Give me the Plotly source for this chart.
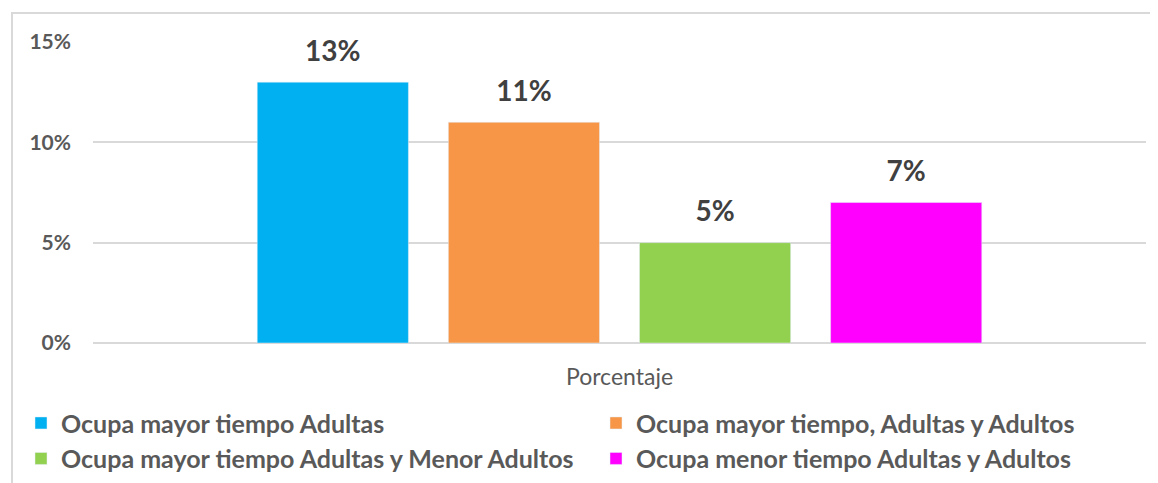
import plotly.graph_objects as go

categories = ["Porcentaje"]
series_names = [
    "Ocupa mayor tiempo Adultas",
    "Ocupa mayor tiempo, Adultas y Adultos",
    "Ocupa mayor tiempo Adultas y Menor Adultos",
    "Ocupa menor tiempo Adultas y Adultos",
]
series_values = [0.13, 0.11, 0.05, 0.07]
series_colors = ["#00B0F0", "#F79646", "#92D050", "#FF00FF"]
series_legend = ["legend", "legend2", "legend", "legend2"]
tick_vals = [0, 0.05, 0.10, 0.15]
tick_text = ["0%", "5%", "10%", "15%"]

FONT = "Lato"
L, R, T, B = 85, 20, 34, 148
PW = 1158 - L - R
PH = 483 - T - B

fig = go.Figure()
for name, val, col, lg in zip(series_names, series_values, series_colors, series_legend):
    fig.add_trace(go.Bar(
        x=categories, y=[val], name=name, marker_color=col, legend=lg,
        texttemplate="<span style='font-size:28px'>%{y:.0%}</span><br> ",
        textposition="outside",
        textfont=dict(family=FONT, size=12, color="#404040", weight="bold"),
        cliponaxis=False,
    ))

legend_common = dict(orientation="v", yanchor="top", y=-0.19, xanchor="left",
                     bgcolor="rgba(0,0,0,0)", traceorder="normal",
                     font=dict(family=FONT, size=25, color="#595959", weight="bold"))

fig.update_layout(
    width=1158, height=483,
    margin=dict(l=L, r=R, t=T, b=B, autoexpand=False),
    plot_bgcolor="white", paper_bgcolor="white",
    barmode="group", bargap=0.274, bargroupgap=0.209,
    font=dict(family=FONT, color="#595959"),
    xaxis=dict(showgrid=False, showline=False, ticks="", ticklabelstandoff=18,
               tickfont=dict(family=FONT, size=23, color="#595959")),
    yaxis=dict(range=[0, 0.15], tickvals=tick_vals, ticktext=tick_text,
               showgrid=True, gridcolor="#D9D9D9", gridwidth=1.5,
               zeroline=True, zerolinecolor="#D9D9D9", zerolinewidth=1.5,
               showline=False, ticks="", ticklabelstandoff=21,
               tickfont=dict(family=FONT, size=21, color="#595959", weight="bold")),
    legend=dict(x=(13 - L) / PW, **legend_common),
    legend2=dict(x=(588 - L) / PW, **legend_common),
    shapes=[dict(type="rect", xref="paper", yref="paper",
                 x0=(4 - L) / PW, x1=1.05, y0=-0.6, y1=(PH + T - 5) / PH,
                 line=dict(color="#D9D9D9", width=2), fillcolor="rgba(0,0,0,0)",
                 layer="below")],
)

fig.write_html("out.html")
